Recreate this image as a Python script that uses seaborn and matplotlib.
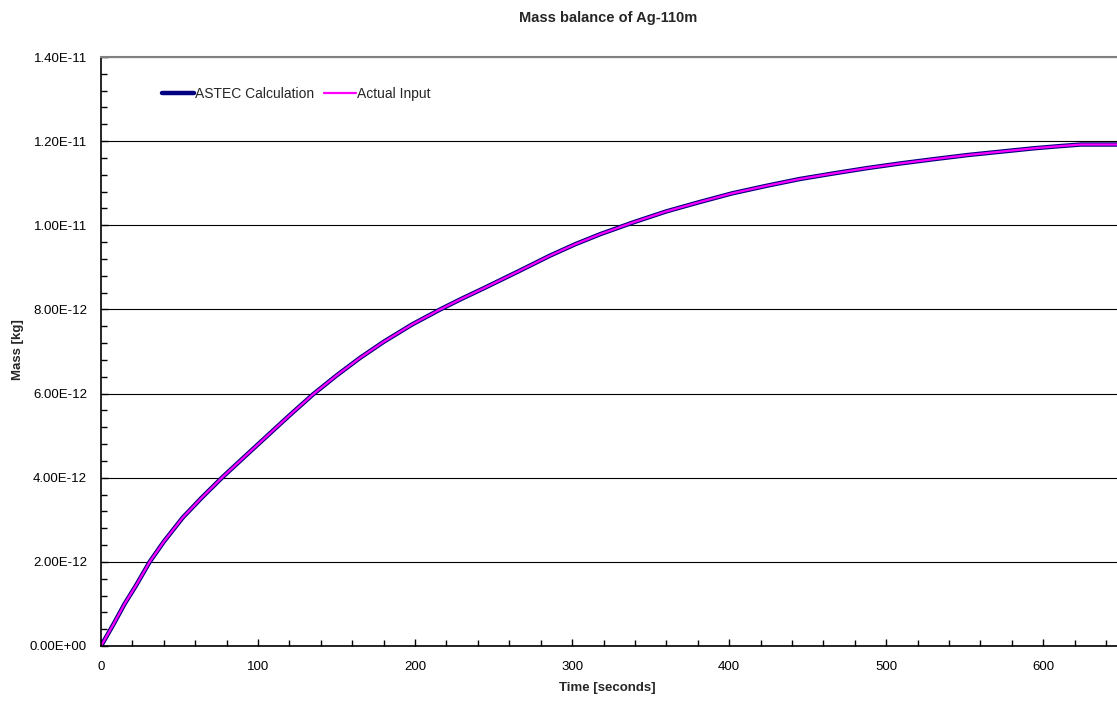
import matplotlib
matplotlib.use("Agg")
import matplotlib.pyplot as plt
import matplotlib.ticker as mticker
import seaborn as sns
import pandas as pd

# Data
time_s = [0, 8, 15, 22, 31, 40, 52, 64, 77, 90, 106, 120, 135, 150, 165, 180,
          198, 216, 230, 243, 265, 286, 302, 318, 339, 360, 381, 402, 424,
          445, 466, 488, 509, 530, 552, 573, 594, 610, 624, 647]
astec_mass = [0.0, 0.52e-12, 1.0e-12, 1.42e-12, 2.0e-12, 2.48e-12, 3.05e-12,
              3.52e-12, 4.0e-12, 4.45e-12, 5.0e-12, 5.48e-12, 5.98e-12,
              6.43e-12, 6.85e-12, 7.23e-12, 7.64e-12, 8.0e-12, 8.26e-12,
              8.49e-12, 8.89e-12, 9.28e-12, 9.55e-12, 9.79e-12, 10.07e-12,
              10.33e-12, 10.55e-12, 10.76e-12, 10.94e-12, 11.1e-12,
              11.23e-12, 11.36e-12, 11.47e-12, 11.57e-12, 11.67e-12,
              11.75e-12, 11.83e-12, 11.88e-12, 11.92e-12, 11.92e-12]
actual_mass = [0.0, 0.52e-12, 1.0e-12, 1.42e-12, 2.0e-12, 2.48e-12, 3.05e-12,
               3.52e-12, 4.0e-12, 4.45e-12, 5.0e-12, 5.48e-12, 5.98e-12,
               6.43e-12, 6.85e-12, 7.23e-12, 7.64e-12, 8.0e-12, 8.26e-12,
               8.49e-12, 8.89e-12, 9.28e-12, 9.55e-12, 9.79e-12, 10.07e-12,
               10.33e-12, 10.55e-12, 10.76e-12, 10.94e-12, 11.1e-12,
               11.23e-12, 11.36e-12, 11.47e-12, 11.57e-12, 11.67e-12,
               11.75e-12, 11.83e-12, 11.88e-12, 11.92e-12, 11.92e-12]
series_names = ["ASTEC Calculation", "Actual Input"]
x_ticks = [0, 100, 200, 300, 400, 500, 600]
y_ticks = [0.0, 2e-12, 4e-12, 6e-12, 8e-12, 1e-11, 1.2e-11, 1.4e-11]
y_tick_labels = ["0.00E+00", "2.00E-12", "4.00E-12", "6.00E-12", "8.00E-12",
                 "1.00E-11", "1.20E-11", "1.40E-11"]
title = "Mass balance of Ag-110m"
x_label = "Time [seconds]"
y_label = "Mass [kg]"

sns.set_theme(style="white")
plt.rcParams["font.family"] = ["Liberation Sans", "DejaVu Sans"]

W, H = 1117, 701
fig = plt.figure(figsize=(W / 100, H / 100), dpi=100)
left, right, top, bottom = 101, 1117, 57, 646
ax = fig.add_axes([left / W, 1 - bottom / H, (right - left) / W, (bottom - top) / H])

df1 = pd.DataFrame({"t": time_s, "m": astec_mass})
df2 = pd.DataFrame({"t": time_s, "m": actual_mass})
sns.lineplot(data=df1, x="t", y="m", ax=ax, color="#000080", linewidth=3.2,
             label=series_names[0], sort=False)
sns.lineplot(data=df2, x="t", y="m", ax=ax, color="#FF00FF", linewidth=1.6,
             label=series_names[1], sort=False)

ax.set_xlim(0, 647)
ax.set_ylim(0, 1.4e-11)
ax.xaxis.set_major_locator(mticker.FixedLocator(x_ticks))
ax.xaxis.set_minor_locator(mticker.FixedLocator([v for v in range(20, 647, 20) if v % 100 != 0]))
ax.yaxis.set_major_locator(mticker.FixedLocator(y_ticks))
ax.yaxis.set_minor_locator(mticker.FixedLocator([i * 4e-13 for i in range(1, 35) if i % 5 != 0]))
ax.set_yticklabels(y_tick_labels)
ax.set_xticklabels([str(v) for v in x_ticks])

ax.grid(axis="y", which="major", color="#000000", linewidth=0.8)
ax.set_axisbelow(True)
for s in ["left", "bottom"]:
    ax.spines[s].set_color("black")
    ax.spines[s].set_linewidth(1.2)
ax.spines["right"].set_visible(False)
ax.spines["top"].set_color("#808080")
ax.spines["top"].set_linewidth(1.5)

ax.tick_params(axis="both", which="major", direction="in", length=5, width=1,
               color="black", labelsize=9.5, labelcolor="black")
ax.tick_params(axis="x", which="major", pad=11)
ax.tick_params(axis="y", which="major", pad=10)
ax.tick_params(axis="both", which="minor", direction="in", length=4, width=1,
               color="black")
ax.tick_params(axis="x", which="both", bottom=True, top=False)
ax.tick_params(axis="y", which="both", left=True, right=False)

ax.set_xlabel("")
ax.set_ylabel("")
fig.text(608 / W, 1 - 18 / H, title, ha="center", va="center",
         fontsize=10.5, fontweight="bold")
fig.text(607 / W, 1 - 688 / H, x_label, ha="center", va="center",
         fontsize=9.5, fontweight="bold")
fig.text(18 / W, 1 - 350 / H, y_label, ha="center", va="center",
         fontsize=9.5, fontweight="bold", rotation=90)

leg = ax.legend(loc="center left",
                bbox_to_anchor=((156 - left) / (right - left), (bottom - 94) / (bottom - top)),
                ncol=2, frameon=False, fontsize=10, handlelength=2.3,
                handletextpad=0.1, columnspacing=0.7, borderaxespad=0)

fig.savefig("out.png", dpi=100)
